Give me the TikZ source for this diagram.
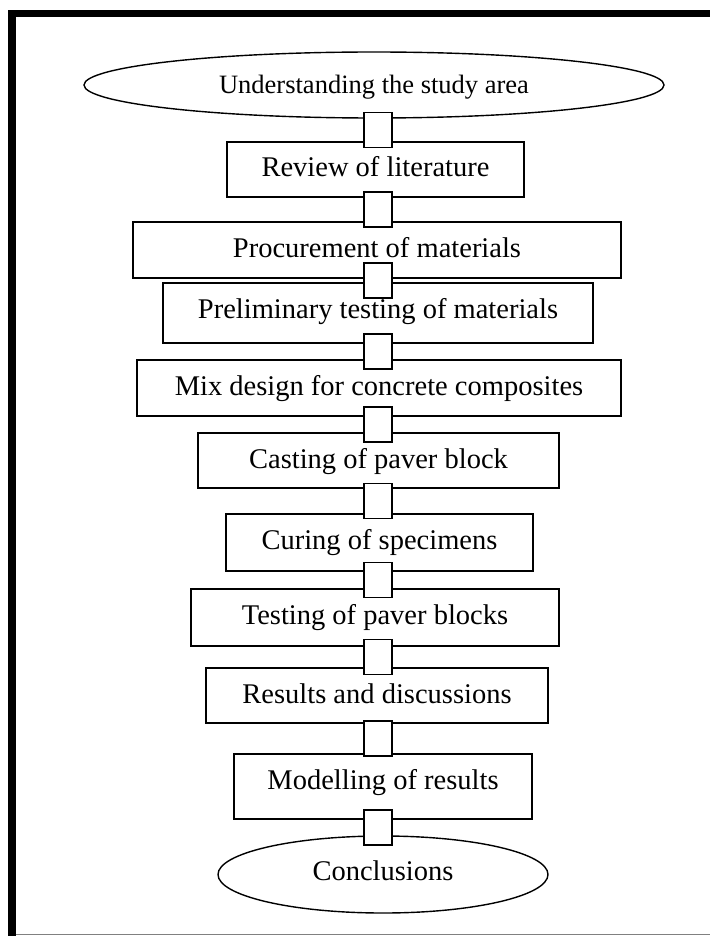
\documentclass[tikz,border=0pt]{standalone}
\usepackage{fontspec}
\setmainfont{Liberation Serif}
\usetikzlibrary{shapes.geometric,calc}

\begin{document}
\begin{tikzpicture}[x=1pt,y=-1pt,
	box/.style={draw, line width=1.4pt, inner xsep=0pt, inner ysep=0pt, text height=35pt},
	oval/.style={draw, ellipse, line width=1.4pt, inner sep=0pt},
	link/.style={draw, fill=white, line width=1.4pt, minimum width=28pt, minimum height=35pt, inner sep=0pt}]
	\fontsize{28.5}{34}\selectfont
	\useasboundingbox (0,0) rectangle (710,936);
	% frame
	\fill (8,10) rectangle (16,936);
	\fill (8,10) rectangle (710,17);
	\draw[gray, line width=1.5pt] (16,934.5)--(710,934.5);
	
	\node[oval, minimum width=580pt, minimum height=66pt, text height=22pt, text depth=4pt, font=\fontsize{26.5}{32}\selectfont] (und) at (374,85) {Understanding the study area};
	\node[box, minimum width=297pt, text depth=20pt] (rev) at (375.5,169.5) {Review of literature};
	\node[box, minimum width=488pt, text depth=21pt] (proc) at (377,250) {Procurement of materials};
	\node[box, minimum width=430pt, text depth=25pt] (prel) at (378,313) {Preliminary testing of materials};
	\node[box, minimum width=484pt, text depth=21pt] (mix) at (379,388) {Mix design for concrete composites};
	\node[box, minimum width=361pt, text depth=20pt] (cast) at (378.5,460.5) {Casting of paver block};
	\node[box, minimum width=307pt, text depth=22pt] (cure) at (379.5,542.5) {Curing of specimens};
	\node[box, minimum width=368pt, text depth=22pt] (test) at (375,617.5) {Testing of paver blocks};
	\node[box, minimum width=342pt, text depth=20pt] (res) at (377,695.5) {Results and discussions};
	\node[box, minimum width=298pt, text depth=30pt] (mod) at (383,786.5) {Modelling of results};
	\node[oval, minimum width=330pt, minimum height=77pt, text height=20pt, text depth=9pt] (conc) at (383,874.5) {Conclusions};
	
	% square links between the steps
	\coordinate (axis) at (378,0);
	\foreach \a/\b in {und/rev,rev/proc,proc/prel,prel/mix,mix/cast,cast/cure,cure/test,test/res,res/mod,mod/conc}{
		\coordinate (m) at ($(\a.south)!.5!(\b.north)$);
		\node[link] (\a-\b) at (axis |- m) {};
	}
\end{tikzpicture}
\end{document}
